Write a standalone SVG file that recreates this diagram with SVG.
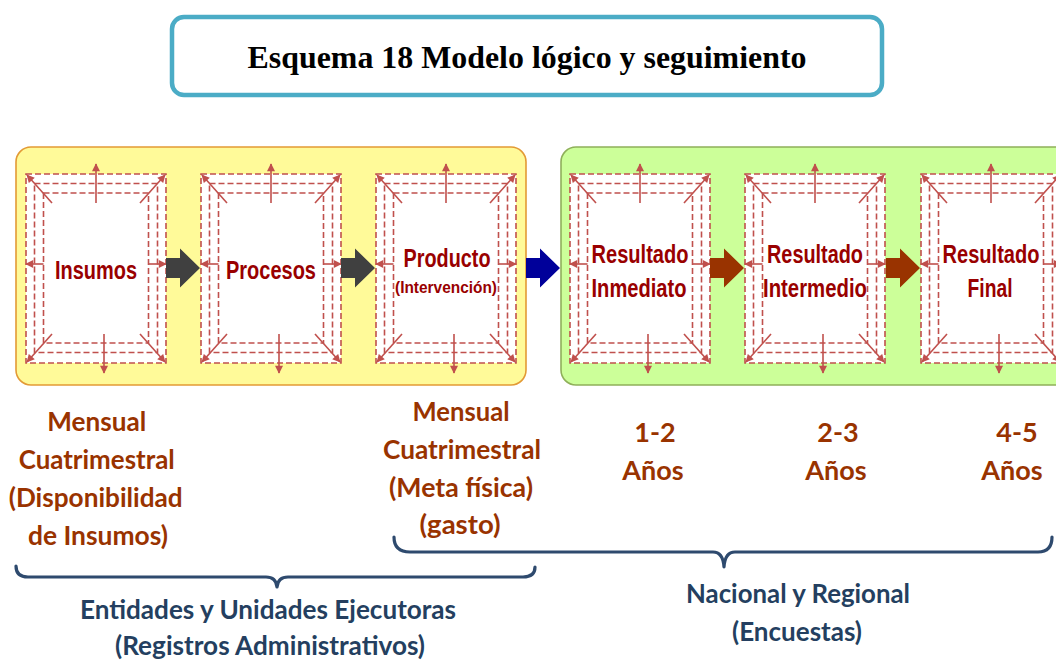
<svg xmlns="http://www.w3.org/2000/svg" xmlns:xlink="http://www.w3.org/1999/xlink" width="1056" height="660" viewBox="0 0 1056 660">
<style>
.title{font-family:"Liberation Serif","Times New Roman",serif;font-weight:bold;font-size:31px;fill:#000}
.nt{font-family:"Liberation Sans",Arial,sans-serif;font-weight:bold;font-size:26.5px;fill:#990000}
.ns{font-family:"Liberation Sans",Arial,sans-serif;font-weight:bold;font-size:17px;fill:#990000}
.fr{font-family:Lato,"Open Sans",sans-serif;font-weight:bold;font-size:27px;fill:#993300}
.src{font-family:Lato,"Open Sans",sans-serif;font-weight:bold;font-size:26px;fill:#243F60}
.d{fill:none;stroke:#C0504D;stroke-width:1.6;stroke-dasharray:6,3}
.a{fill:none;stroke:#C0504D;stroke-width:1.6;marker-end:url(#ah)}
.br{fill:none;stroke:#2E4A6E;stroke-width:3.2;stroke-linecap:round;stroke-linejoin:round}
</style>
<defs>
<marker id="ah" viewBox="0 0 10 10" refX="9" refY="5" markerWidth="9" markerHeight="8" markerUnits="userSpaceOnUse" orient="auto">
<path d="M0,0 L10,5 L0,10 Z" fill="#C0504D"/>
</marker>
<g id="frame">
<rect x="0" y="0" width="140" height="189" fill="#fff"/>
<rect class="d" x="0" y="0" width="140" height="189"/>
<rect class="d" x="8.5" y="9.5" width="123" height="169"/>
<rect class="d" x="17.5" y="19" width="105" height="150"/>
<line class="a" x1="70" y1="29" x2="70" y2="-10"/>
<line class="a" x1="78" y1="160" x2="78" y2="199"/>
<line class="a" x1="17.5" y1="90" x2="0" y2="90"/>
<line class="a" x1="122.5" y1="90" x2="140" y2="90"/>
<line class="a" x1="26" y1="29" x2="1" y2="1"/>
<line class="a" x1="114" y1="29" x2="139" y2="1"/>
<line class="a" x1="26" y1="160" x2="1" y2="188"/>
<line class="a" x1="114" y1="160" x2="139" y2="188"/>
</g>
<path id="blk" d="M0,-10 L14,-10 L14,-19.5 L34,0 L14,19.5 L14,10 L0,10 Z"/>
</defs>
<rect width="1056" height="660" fill="#fff"/>

<g id="title">
<rect x="172" y="17" width="710" height="78" rx="12" fill="#fff" stroke="#4BACC6" stroke-width="4.5"/>
<text class="title" x="527" y="68" text-anchor="middle" textLength="559" lengthAdjust="spacingAndGlyphs">Esquema 18 Modelo lógico y seguimiento</text>
</g>

<g id="panel-yellow">
<rect x="16" y="147" width="510" height="238" rx="15" fill="#FFFA99" stroke="#E39A35" stroke-width="1.6"/>
</g>
<g id="panel-green">
<rect x="561" y="147" width="520" height="238" rx="15" fill="#CCFF99" stroke="#8FB05A" stroke-width="1.6"/>
</g>

<g id="insumos">
<use xlink:href="#frame" href="#frame" x="26" y="174"/>
<text class="nt" x="96" y="279" text-anchor="middle" textLength="82" lengthAdjust="spacingAndGlyphs">Insumos</text>
</g>
<g id="procesos">
<use xlink:href="#frame" href="#frame" x="201" y="174"/>
<text class="nt" x="271" y="279" text-anchor="middle" textLength="90" lengthAdjust="spacingAndGlyphs">Procesos</text>
</g>
<g id="producto">
<use xlink:href="#frame" href="#frame" x="376" y="174"/>
<text class="nt" x="447" y="267" text-anchor="middle" textLength="87" lengthAdjust="spacingAndGlyphs">Producto</text>
<text class="ns" x="446" y="293" text-anchor="middle" textLength="102" lengthAdjust="spacingAndGlyphs">(Intervención)</text>
</g>
<g id="resultado-inmediato">
<use xlink:href="#frame" href="#frame" x="570" y="174"/>
<text class="nt" x="640" y="263" text-anchor="middle" textLength="97" lengthAdjust="spacingAndGlyphs">Resultado</text>
<text class="nt" x="639" y="297" text-anchor="middle" textLength="95" lengthAdjust="spacingAndGlyphs">Inmediato</text>
</g>
<g id="resultado-intermedio">
<use xlink:href="#frame" href="#frame" x="745" y="174"/>
<text class="nt" x="815" y="263" text-anchor="middle" textLength="96" lengthAdjust="spacingAndGlyphs">Resultado</text>
<text class="nt" x="815" y="297" text-anchor="middle" textLength="104" lengthAdjust="spacingAndGlyphs">Intermedio</text>
</g>
<g id="resultado-final">
<use xlink:href="#frame" href="#frame" x="921" y="174"/>
<text class="nt" x="991" y="263" text-anchor="middle" textLength="97" lengthAdjust="spacingAndGlyphs">Resultado</text>
<text class="nt" x="990" y="297" text-anchor="middle" textLength="45" lengthAdjust="spacingAndGlyphs">Final</text>
</g>

<g id="connectors">
<use xlink:href="#blk" href="#blk" x="166" y="268" fill="#404040"/>
<use xlink:href="#blk" href="#blk" x="341" y="268" fill="#404040"/>
<use xlink:href="#blk" href="#blk" x="526" y="268" fill="#00009A"/>
<use xlink:href="#blk" href="#blk" x="710" y="268" fill="#993300"/>
<use xlink:href="#blk" href="#blk" x="886" y="268" fill="#993300"/>
<path class="br" d="M16,566 Q16,577 28,577 L266,577 Q276,577 277,587 Q278,577 288,577 L523,577 Q535,577 535,567"/>
<path class="br" d="M394,537 Q394,552 410,552 L713,552 Q723,552 724,567 Q725,552 735,552 L1038,552 Q1052,552 1052,537"/>
</g>

<g id="frecuencias">
<text class="fr" text-anchor="middle">
<tspan x="100" y="431" textLength="99" lengthAdjust="spacingAndGlyphs">Mensual</tspan>
<tspan x="100" y="469" textLength="156" lengthAdjust="spacingAndGlyphs">Cuatrimestral</tspan>
<tspan x="99" y="507" textLength="174" lengthAdjust="spacingAndGlyphs">(Disponibilidad</tspan>
<tspan x="98" y="545" textLength="140" lengthAdjust="spacingAndGlyphs">de Insumos)</tspan>
</text>
<text class="fr" x="461" y="421" text-anchor="middle" textLength="97" lengthAdjust="spacingAndGlyphs">Mensual</text>
<text class="fr" x="462" y="459" text-anchor="middle" textLength="158" lengthAdjust="spacingAndGlyphs">Cuatrimestral</text>
<text class="fr" x="461" y="497" text-anchor="middle" textLength="144" lengthAdjust="spacingAndGlyphs">(Meta física)</text>
<text class="fr" x="460" y="534" text-anchor="middle" textLength="81" lengthAdjust="spacingAndGlyphs">(gasto)</text>
<text class="fr" x="655" y="442" text-anchor="middle">1-2</text>
<text class="fr" x="653" y="480" text-anchor="middle">Años</text>
<text class="fr" x="838" y="442" text-anchor="middle">2-3</text>
<text class="fr" x="836" y="480" text-anchor="middle">Años</text>
<text class="fr" x="1017" y="442" text-anchor="middle">4-5</text>
<text class="fr" x="1012" y="480" text-anchor="middle">Años</text>
</g>

<g id="fuentes">
<text class="src" x="268" y="619" text-anchor="middle" textLength="376" lengthAdjust="spacingAndGlyphs">Entidades y Unidades Ejecutoras</text>
<text class="src" x="270" y="655" text-anchor="middle" textLength="310" lengthAdjust="spacingAndGlyphs">(Registros Administrativos)</text>
<text class="src" x="798" y="603" text-anchor="middle" textLength="224" lengthAdjust="spacingAndGlyphs">Nacional y Regional</text>
<text class="src" x="797" y="641" text-anchor="middle" textLength="130" lengthAdjust="spacingAndGlyphs">(Encuestas)</text>
</g>
</svg>
